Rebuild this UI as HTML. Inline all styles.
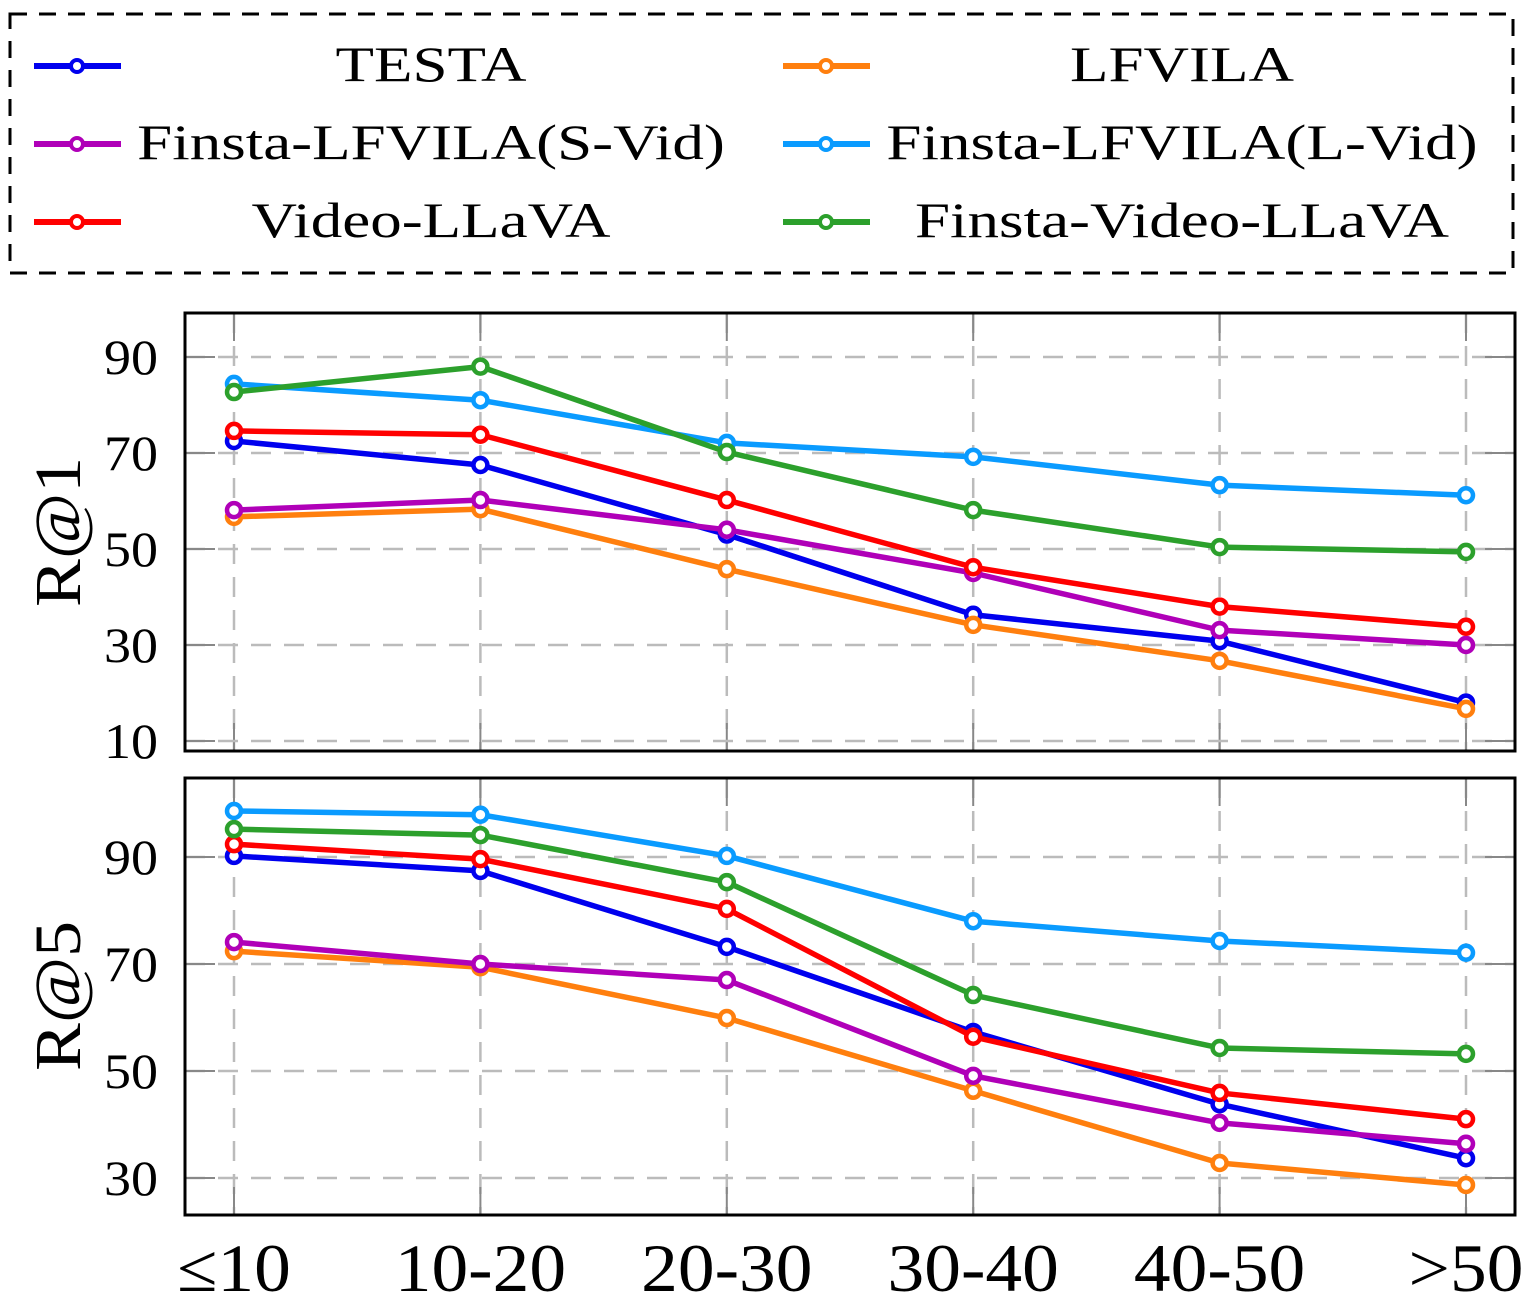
<!DOCTYPE html>
<html><head><meta charset="utf-8"><style>
body{margin:0;background:#fff}
svg{display:block}
text{font-family:"Liberation Serif",serif;fill:#000}
</style></head><body>
<svg id="chart" width="1531" height="1311" viewBox="0 0 1531 1311">
<rect x="10" y="14" width="1503" height="259" fill="none" stroke="#000" stroke-width="3" stroke-dasharray="17,12"/>
<g id="legend"></g>
<g id="p1"></g>
<g id="p2"></g>
<text x="0" y="0" transform="translate(80,532) rotate(-90)" text-anchor="middle" font-size="66" textLength="150" lengthAdjust="spacingAndGlyphs">R@1</text>
<text x="0" y="0" transform="translate(80,996) rotate(-90)" text-anchor="middle" font-size="66" textLength="150" lengthAdjust="spacingAndGlyphs">R@5</text>
</svg>
<script>
const categories = ["≤10","10-20","20-30","30-40","40-50",">50"];
const seriesNames = ["TESTA","LFVILA","Finsta-LFVILA(S-Vid)","Finsta-LFVILA(L-Vid)","Video-LLaVA","Finsta-Video-LLaVA"];
const colors = ["#0000ee","#ff7f0e","#b000b8","#0a9bff","#ff0000","#2ca02c"];
const r1Testa = [72.5,67.5,53,36.3,30.8,18];
const r1Lfvila = [56.7,58.3,45.8,34.2,26.7,16.7];
const r1SVid = [58.1,60.2,54,45,33.1,30];
const r1LVid = [84.4,81,72.1,69.2,63.3,61.2];
const r1VideoLlava = [74.6,73.8,60.2,46.2,38,33.8];
const r1FinstaVL = [82.7,88,70.2,58.1,50.4,49.4];
const r5Testa = [90.2,87.4,73.2,57.3,43.8,33.7];
const r5Lfvila = [72.4,69.4,59.9,46.3,32.8,28.7];
const r5SVid = [74.1,70,67,49.1,40.3,36.4];
const r5LVid = [98.6,97.9,90.2,78,74.3,72.1];
const r5VideoLlava = [92.4,89.6,80.3,56.4,45.9,41];
const r5FinstaVL = [95.2,94.1,85.3,64.2,54.3,53.2];
const r1Ticks = [10,30,50,70,90];
const r5Ticks = [30,50,70,90];

const NS="http://www.w3.org/2000/svg";
function mk(tag,attrs,parent){const e=document.createElementNS(NS,tag);for(const k in attrs)e.setAttribute(k,attrs[k]);parent.appendChild(e);return e;}
function widen(t,k){const w=t.getComputedTextLength();t.setAttribute('textLength',w*k);t.setAttribute('lengthAdjust','spacingAndGlyphs');}
const L=185,R=1515;
function xs(i){return 234+i*(1466-234)/(categories.length-1);}

function panel(g,top,bot,v0,y0,v1,y1,ticks,data,prefix){
  const ys=v=>y0+(v-v0)*(y1-y0)/(v1-v0);
  categories.forEach((c,i)=>{
    const l=mk('line',{x1:xs(i),x2:xs(i),y1:top,y2:bot,stroke:'#bbb','stroke-width':2.5,'stroke-dasharray':'20,13'},g);
    
    
    mk('line',{x1:xs(i),x2:xs(i),y1:top,y2:top+28,stroke:'#888','stroke-width':2},g);
    mk('line',{x1:xs(i),x2:xs(i),y1:bot,y2:bot-28,stroke:'#888','stroke-width':2},g);
  });
  ticks.forEach(t=>{
    const y=ys(t);
    const l=mk('line',{x1:L,x2:R,y1:y,y2:y,stroke:'#bbb','stroke-width':2.5,'stroke-dasharray':'20,13'},g);
    
    
    mk('line',{x1:L,x2:L+30,y1:y,y2:y,stroke:'#888','stroke-width':2},g);
    mk('line',{x1:R,x2:R-30,y1:y,y2:y,stroke:'#888','stroke-width':2},g);
    const tx=mk('text',{x:158,y:y+17,'text-anchor':'end','font-size':50},g);
    tx.textContent=t;
    
    
    widen(tx,1.08);
  });
  const fr=mk('rect',{x:L,y:top,width:R-L,height:bot-top,fill:'none',stroke:'#000','stroke-width':3},g);
  
  
  data.forEach((arr,s)=>{
    const pts=arr.map((v,i)=>xs(i)+','+ys(v)).join(' ');
    const pl=mk('polyline',{points:pts,fill:'none',stroke:colors[s],'stroke-width':5.5,'stroke-linejoin':'round'},g);
    
    
    arr.forEach((v,i)=>{
      const c=mk('circle',{cx:xs(i),cy:ys(v),r:7,fill:'#fff',stroke:colors[s],'stroke-width':4.5},g);
      
      
    });
  });
}
panel(document.getElementById('p1'),313,751,90,357,10,741,r1Ticks,
  [r1Testa,r1Lfvila,r1SVid,r1LVid,r1VideoLlava,r1FinstaVL],'r1');
panel(document.getElementById('p2'),778,1215,90,857,30,1178,r5Ticks,
  [r5Testa,r5Lfvila,r5SVid,r5LVid,r5VideoLlava,r5FinstaVL],'r5');

const svg=document.getElementById('chart');
categories.forEach((c,i)=>{
  const t=mk('text',{x:xs(i),y:1291,'text-anchor':'middle','font-size':68},svg);
  t.textContent=c;
  
  
  widen(t,1.08);
});

const lg=document.getElementById('legend');
const order=[[0,1],[2,3],[4,5]];
order.forEach((row,r)=>{
  row.forEach((s,c)=>{
    const y=66+r*78;
    const lx=c?783:34;
    mk('line',{x1:lx,x2:lx+87,y1:y,y2:y,stroke:colors[s],'stroke-width':6},lg);
    mk('circle',{cx:lx+43,cy:y,r:6,fill:'#fff',stroke:colors[s],'stroke-width':4},lg);
    const t=mk('text',{x:c?1182:431,y:y+15,'text-anchor':'middle','font-size':50},lg);
    t.textContent=seriesNames[s];
    
    
    widen(t,1.26);
  });
});
</script>
</body></html>
